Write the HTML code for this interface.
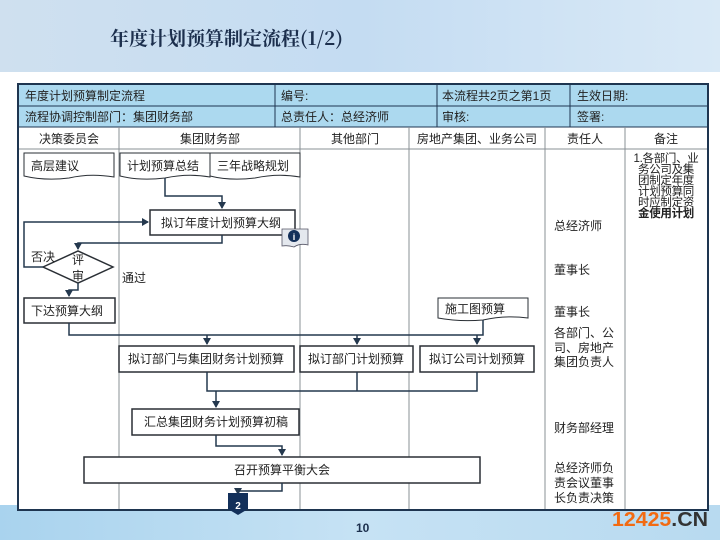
<!DOCTYPE html>
<html><head><meta charset="utf-8"><style>
html,body{margin:0;padding:0;width:720px;height:540px;overflow:hidden;background:#fff}
svg{display:block}
text{font-family:"Liberation Sans","Noto Sans CJK SC",sans-serif;font-size:12px;fill:#222}
.n{font-size:11.5px;letter-spacing:-0.3px}
</style></head><body>
<svg width="720" height="540" viewBox="0 0 720 540" xmlns="http://www.w3.org/2000/svg">
<defs>
<linearGradient id="top" x1="0" y1="0" x2="1" y2="0"><stop offset="0" stop-color="#cfe0ef"/><stop offset="0.5" stop-color="#c4dcf2"/><stop offset="1" stop-color="#d9e9f6"/></linearGradient>
<linearGradient id="bot" x1="0" y1="0" x2="1" y2="0"><stop offset="0" stop-color="#a9d3ee"/><stop offset="0.5" stop-color="#c6e2f4"/><stop offset="1" stop-color="#b8daf0"/></linearGradient>
<marker id="a" markerWidth="8" markerHeight="8" refX="6" refY="4" orient="auto" markerUnits="userSpaceOnUse"><path d="M0,0 L7,4 L0,8 Z" fill="#24384e"/></marker>
</defs>
<rect x="0" y="0" width="720" height="72" fill="url(#top)"/>
<text x="110" y="45" style="font-family:'Noto Serif CJK SC','Liberation Serif',serif;font-size:19px;font-weight:bold;fill:#1c2f4d">年度计划预算制定流程(1/2)</text>
<rect x="0" y="505" width="720" height="35" fill="url(#bot)"/>
<text x="356" y="532" style="font-size:12px;font-weight:bold;fill:#1c2f4d">10</text>
<text x="612" y="526" textLength="96" lengthAdjust="spacingAndGlyphs" style="font-size:20px;font-weight:bold;fill:#f26a12">12425<tspan style="fill:#333">.CN</tspan></text>

<rect x="18" y="84" width="690" height="43" fill="#acd9ef"/>
<rect x="18" y="127" width="690" height="383" fill="#fff"/>
<g stroke="#1e3550" stroke-width="1" fill="none">
<line x1="18" y1="106" x2="708" y2="106"/>
<line x1="18" y1="127" x2="708" y2="127"/>
<line x1="275" y1="84" x2="275" y2="127"/>
<line x1="437" y1="84" x2="437" y2="127"/>
<line x1="570" y1="84" x2="570" y2="127"/>
</g>
<g stroke="#8a9096" stroke-width="1">
<line x1="18" y1="149" x2="708" y2="149"/>
<line x1="119" y1="127" x2="119" y2="510"/>
<line x1="300" y1="127" x2="300" y2="510"/>
<line x1="409" y1="127" x2="409" y2="510"/>
<line x1="545" y1="127" x2="545" y2="510"/>
<line x1="625" y1="127" x2="625" y2="510"/>
</g>
<rect x="18" y="84" width="690" height="426" fill="none" stroke="#1e3550" stroke-width="2"/>
<text x="25" y="100">年度计划预算制定流程</text>
<text x="281" y="100">编号:</text>
<text x="442" y="100">本流程共2页之第1页</text>
<text x="577" y="100">生效日期:</text>
<text x="25" y="121">流程协调控制部门：集团财务部</text>
<text x="281" y="121">总责任人：总经济师</text>
<text x="442" y="121">审核:</text>
<text x="577" y="121">签署:</text>
<g text-anchor="middle">
<text x="69" y="143">决策委员会</text>
<text x="210" y="143">集团财务部</text>
<text x="355" y="143">其他部门</text>
<text x="477" y="143">房地产集团、业务公司</text>
<text x="585" y="143">责任人</text>
<text x="666" y="143">备注</text>
</g>

<g stroke="#2a2f35" stroke-width="1" fill="#fff">
<path d="M24,153 H114 V177 Q90,173 69,178 Q45,181 24,176 Z"/>
<path d="M120,153 H210 V177 Q188,173 165,178 Q140,181 120,176 Z"/>
<path d="M210,153 H300 V177 Q278,173 255,178 Q230,181 210,176 Z"/>
<path d="M438,298 H528 V318 Q505,315 483,320 Q460,322 438,318 Z"/>
</g>
<text x="31" y="170">高层建议</text>
<text x="127" y="170">计划预算总结</text>
<text x="217" y="170">三年战略规划</text>
<text x="445" y="313">施工图预算</text>

<g stroke="#2a2f35" stroke-width="1.5" fill="#fff">
<rect x="150" y="210" width="145" height="25"/>
<rect x="24" y="298" width="91" height="25"/>
<rect x="119" y="346" width="175" height="26"/>
<rect x="300" y="346" width="113" height="26"/>
<rect x="420" y="346" width="114" height="26"/>
<rect x="132" y="409" width="167" height="26"/>
<rect x="84" y="457" width="396" height="26"/>
<path d="M43,267 L78,251 L113,267 L78,283 Z"/>
</g>
<text x="161" y="227">拟订年度计划预算大纲</text>
<text x="31" y="315">下达预算大纲</text>
<text x="128" y="363">拟订部门与集团财务计划预算</text>
<text x="308" y="363">拟订部门计划预算</text>
<text x="429" y="363">拟订公司计划预算</text>
<text x="144" y="426">汇总集团财务计划预算初稿</text>
<text x="282" y="474" text-anchor="middle">召开预算平衡大会</text>
<text x="72" y="264">评</text>
<text x="72" y="280">审</text>
<text x="31" y="261">否决</text>
<text x="122" y="282">通过</text>

<path d="M282,229 H308 V245 Q300,243 294,247 Q288,245 282,246 Z" fill="#e4e8ee" stroke="#556" stroke-width="0.8"/>
<circle cx="294" cy="236" r="6" fill="#13305a"/>
<text x="294" y="240" text-anchor="middle" style="font-size:9px;font-weight:bold;fill:#fff">i</text>

<g stroke="#24384e" stroke-width="1.5" fill="none">
<path d="M165,178 V196 H222 V208" marker-end="url(#a)"/>
<path d="M222,235 V243 H78 V249" marker-end="url(#a)"/>
<path d="M43,267 H24 V222 H148" marker-end="url(#a)"/>
<path d="M78,283 V290 H69 V296" marker-end="url(#a)"/>
<path d="M69,323 V335 H483 V320"/>
<path d="M207,335 V344" marker-end="url(#a)"/>
<path d="M357,335 V344" marker-end="url(#a)"/>
<path d="M477,335 V344" marker-end="url(#a)"/>
<path d="M207,372 V391 H477 V372"/>
<path d="M357,372 V391"/>
<path d="M216,391 V407" marker-end="url(#a)"/>
<path d="M216,435 V446 H282 V455" marker-end="url(#a)"/>
<path d="M282,483 V491 H238 V494" marker-end="url(#a)"/>
</g>
<path d="M228,493 H248 V509 L238,515 L228,509 Z" fill="#13305a"/>
<text x="238" y="509" text-anchor="middle" style="font-size:10px;font-weight:bold;fill:#fff">2</text>

<text x="554" y="230">总经济师</text>
<text x="554" y="274">董事长</text>
<text x="554" y="316">董事长</text>
<text x="554" y="337">各部门、公</text>
<text x="554" y="352">司、房地产</text>
<text x="554" y="366">集团负责人</text>
<text x="554" y="432">财务部经理</text>
<text x="554" y="472">总经济师负</text>
<text x="554" y="487">责会议董事</text>
<text x="554" y="502">长负责决策</text>

<g text-anchor="middle">
<text x="666" y="162" class="n">1.各部门、业</text>
<text x="666" y="173" class="n">务公司及集</text>
<text x="666" y="184" class="n">团制定年度</text>
<text x="666" y="195" class="n">计划预算同</text>
<text x="666" y="206" class="n">时应制定资</text>
<text x="666" y="217" class="n" style="font-weight:bold">金使用计划</text>
</g>
</svg>
</body></html>
